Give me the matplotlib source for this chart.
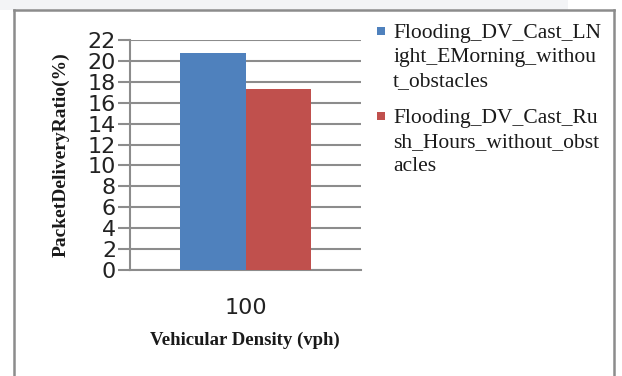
import matplotlib
matplotlib.use("Agg")
import matplotlib.pyplot as plt
from matplotlib.patches import Rectangle
from matplotlib.lines import Line2D

categories = ["100"]
series_names = [
    "Flooding_DV_Cast_LN\night_EMorning_withou\nt_obstacles",
    "Flooding_DV_Cast_Ru\nsh_Hours_without_obst\nacles",
]
series_values = [[20.8], [17.3]]
series_colors = ["#4f81bd", "#c0504d"]
y_ticks = list(range(0, 23, 2))

W, H = 622, 376
fig = plt.figure(figsize=(W / 100, H / 100), dpi=100)
fig.patch.set_facecolor("white")

def px(x, y):
    return x / W, 1 - y / H

# light strip above the chart frame
fig.add_artist(Rectangle((0, 1 - 10 / H), 568 / W, 10 / H, transform=fig.transFigure,
                         facecolor="#f3f4f6", edgecolor="none", zorder=0))
# chart frame (open at the bottom)
frame_col = "#8c8c8c"
for (x0, y0), (x1, y1) in [((14, 380), (14, 10)), ((14, 10), (614, 10)), ((614, 10), (614, 380))]:
    a, b = px(x0, y0)
    c, d = px(x1, y1)
    fig.add_artist(Line2D([a, c], [b, d], transform=fig.transFigure, color=frame_col, lw=1.8))

left, right, top, bottom = 130, 361, 40, 270
ax = fig.add_axes([left / W, 1 - bottom / H, (right - left) / W, (bottom - top) / H])
ax.set_facecolor("none")

n = len(series_values)
width = 0.285
xs = list(range(len(categories)))
for i, (vals, col, name) in enumerate(zip(series_values, series_colors, series_names)):
    offs = [x + (i - (n - 1) / 2) * width for x in xs]
    ax.bar(offs, vals, width, color=col, label=name, zorder=3)

ax.set_xlim(-0.5, len(categories) - 0.5)
ax.set_ylim(0, 22)
ax.set_yticks(y_ticks)
ax.set_yticklabels([str(t) for t in y_ticks], fontsize=16, family="DejaVu Sans", color="#222222")
ax.tick_params(axis="y", length=9, width=1.5, color="#8c8c8c", pad=1)
ax.set_xticks(xs)
ax.set_xticklabels(categories, fontsize=16, family="DejaVu Sans", color="#222222")
ax.tick_params(axis="x", length=0, pad=20)
ax.yaxis.grid(True, color="#8c8c8c", lw=1.5, zorder=0)
for s in ["top", "right"]:
    ax.spines[s].set_visible(False)
for s in ["left", "bottom"]:
    ax.spines[s].set_color("#8c8c8c")
    ax.spines[s].set_linewidth(1.5)

fig.text(245 / W, 1 - 340 / H, "Vehicular Density (vph)", ha="center", va="center",
         fontsize=13.5, fontweight="bold", family="Liberation Serif", color="#1a1a1a")
fig.text(61 / W, 1 - 155 / H, "PacketDeliveryRatio(%)", ha="center", va="center",
         rotation=90, fontsize=14, fontweight="bold", family="Liberation Serif", color="#1a1a1a")

# legend: a square marker beside the first line of each wrapped label
first_baselines = [38, 123]
line_step = 23.8
for base, col, name in zip(first_baselines, series_colors, series_names):
    fig.add_artist(Rectangle(px(377, base - 3), 7.5 / W, 7.5 / H, transform=fig.transFigure,
                             facecolor=col, edgecolor="none"))
    for k, line in enumerate(name.split("\n")):
        fig.text(393 / W, 1 - (base + k * line_step) / H, line, ha="left", va="baseline",
                 fontsize=15.5, family="Liberation Serif", color="#1a1a1a")

fig.savefig("out.png", dpi=100)
